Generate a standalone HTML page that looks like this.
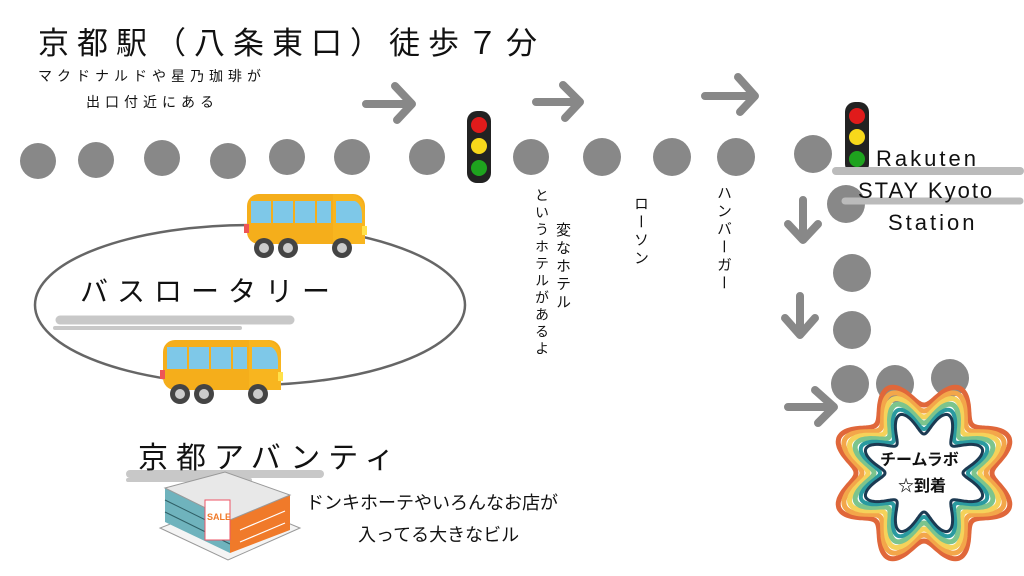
<!DOCTYPE html>
<html><head><meta charset="utf-8"><style>
html,body{margin:0;padding:0;background:#fff;}
body{width:1024px;height:576px;overflow:hidden;position:relative;font-family:"Liberation Sans","Noto Sans CJK JP",sans-serif;}
.t{position:absolute;color:#111;white-space:nowrap;}
.v{position:absolute;writing-mode:vertical-rl;font-size:14px;letter-spacing:3px;color:#111;}
</style></head><body>
<svg width="1024" height="576" style="position:absolute;left:0;top:0">
<defs>
<g id="bus">
<rect x="0" y="0" width="118" height="50" rx="12" fill="#f5ae1b"/>
<path d="M86 0 H104 Q118 4 118 20 V50 H86Z" fill="#f8b51f"/>
<rect x="4" y="7" width="20" height="22" fill="#7ec8e8"/>
<rect x="26" y="7" width="20" height="22" fill="#7ec8e8"/>
<rect x="48" y="7" width="20" height="22" fill="#7ec8e8"/>
<rect x="70" y="7" width="14" height="22" fill="#7ec8e8"/>
<path d="M89 7 H108 Q115 10 115 22 V29 H89Z" fill="#7ec8e8"/>
<rect x="-3" y="30" width="5" height="9" fill="#e55"/>
<rect x="115" y="32" width="5" height="9" fill="#ffe14a"/>
<circle cx="17" cy="54" r="10" fill="#444"/><circle cx="17" cy="54" r="5" fill="#ccc"/>
<circle cx="41" cy="54" r="10" fill="#444"/><circle cx="41" cy="54" r="5" fill="#ccc"/>
<circle cx="95" cy="54" r="10" fill="#444"/><circle cx="95" cy="54" r="5" fill="#ccc"/>
</g>
<g id="light">
<rect x="0" y="0" width="24" height="72" rx="10" fill="#222"/>
<circle cx="12" cy="14" r="8" fill="#e01b1b"/>
<circle cx="12" cy="35" r="8" fill="#f7d81b"/>
<circle cx="12" cy="57" r="8" fill="#1ea31e"/>
</g>
</defs>
<g fill="#888">
<circle cx="38" cy="161" r="18"/><circle cx="96" cy="160" r="18"/><circle cx="162" cy="158" r="18"/>
<circle cx="228" cy="161" r="18"/><circle cx="287" cy="157" r="18"/><circle cx="352" cy="157" r="18"/>
<circle cx="427" cy="157" r="18"/><circle cx="531" cy="157" r="18"/><circle cx="602" cy="157" r="19"/>
<circle cx="672" cy="157" r="19"/><circle cx="736" cy="157" r="19"/><circle cx="813" cy="154" r="19"/>
<circle cx="846" cy="204" r="19"/><circle cx="852" cy="273" r="19"/><circle cx="852" cy="330" r="19"/>
<circle cx="850" cy="384" r="19"/><circle cx="895" cy="384" r="19"/><circle cx="950" cy="378" r="19"/>
</g>
<g stroke="#888" stroke-width="8" fill="none" stroke-linecap="round" stroke-linejoin="round">
<path d="M366 104 H410 M395 86 L412 104 L397 120"/>
<path d="M536 102 H578 M563 85 L580 102 L565 118"/>
<path d="M705 96 H752 M738 77 L755 96 L740 112"/>
<path d="M803 200 V236 M788 224 L803 240 L818 224"/>
<path d="M800 296 V332 M785 318 L800 335 L815 318"/>
<path d="M788 407 H832 M815 390 L834 407 L818 423"/>
</g>
<use href="#light" x="467" y="111"/>
<use href="#light" x="845" y="102"/>
<g stroke="#c8c8c8" stroke-linecap="round" fill="none">
<path d="M60 320 H290" stroke-width="9"/><path d="M55 328 H240" stroke-width="4"/>
<path d="M130 474 H320" stroke-width="8"/><path d="M128 480 H250" stroke-width="4"/>
<path d="M836 171 H1020" stroke-width="8" stroke="#bbb"/><path d="M845 201 H1020" stroke-width="7" stroke="#bbb"/>
</g>
<ellipse cx="250" cy="305" rx="215" ry="80" fill="none" stroke="#666" stroke-width="2.5"/>
<use href="#bus" x="247" y="194"/>
<use href="#bus" x="163" y="340"/>
<g>
<polygon points="160,528 228,560 300,528 232,500" fill="#f4f4f4" stroke="#999" stroke-width="1"/>
<polygon points="165,488 230,520 230,553 165,522" fill="#6fb3bd"/>
<g stroke="#2f5f66" stroke-width="1"><path d="M165 500 L230 532 M165 512 L230 544"/></g>
<polygon points="230,520 290,495 290,530 230,553" fill="#f07a2a"/>
<g stroke="#fff" stroke-width="1.2"><path d="M240 530 L285 511 M240 542 L285 523"/></g>
<polygon points="165,488 225,472 290,495 230,520" fill="#e8e8e8" stroke="#999"/>
<rect x="205" y="500" width="25" height="40" fill="#fff" stroke="#e56"/>
<text x="207" y="520" font-size="9" fill="#f07a2a" font-weight="bold">SALE</text>
</g>
<g id="star"></g>
</svg>
<div class="t" style="left:38px;top:18px;font-size:31px;letter-spacing:8px;">京都駅（八条東口）徒歩７分</div>
<div class="t" style="left:38px;top:66px;font-size:14px;letter-spacing:5px;">マクドナルドや星乃珈琲が</div>
<div class="t" style="left:86px;top:92px;font-size:14px;letter-spacing:5px;">出口付近にある</div>
<div class="t" style="left:80px;top:270px;font-size:28px;letter-spacing:9px;">バスロータリー</div>
<div class="t" style="left:138px;top:433px;font-size:30px;letter-spacing:8px;">京都アバンティ</div>
<div class="t" style="left:306px;top:489px;font-size:18px;">ドンキホーテやいろんなお店が</div>
<div class="t" style="left:358px;top:521px;font-size:18px;">入ってる大きなビル</div>
<div class="v" style="left:532px;top:188px;">というホテルがあるよ</div>
<div class="v" style="left:552px;top:222px;font-size:15px;">変なホテル</div>
<div class="v" style="left:630px;top:196px;font-size:15px;">ローソン</div>
<div class="v" style="left:713px;top:185px;font-size:15px;">ハンバーガー</div>
<div class="t" style="left:876px;top:146px;font-size:22px;letter-spacing:3px;">Rakuten</div>
<div class="t" style="left:858px;top:178px;font-size:22px;letter-spacing:2px;">STAY Kyoto</div>
<div class="t" style="left:888px;top:210px;font-size:22px;letter-spacing:3px;">Station</div>
<div class="t" style="left:880px;top:446px;font-size:16px;font-weight:bold;">チームラボ</div>
<div class="t" style="left:898px;top:472px;font-size:16px;font-weight:bold;">☆到着</div>
<script>
(function(){
var g=document.getElementById('star');var cx=924,cy=473;
var rings=[[92,'#e0673a',5],[86,'#f3a64a',5],[80,'#f5d25a',5],[74,'#7cc48d',5],[68,'#2a9aa0',4],[63,'#1c3a52',3]];
var s='';
rings.forEach(function(r,i){var d='';for(var k=0;k<=360;k++){var a=k*Math.PI/180;var rr=r[0]-12+12*Math.cos(8*(a-Math.PI/8));var x=cx+rr*Math.cos(a),y=cy+rr*Math.sin(a);d+=(k?'L':'M')+x.toFixed(1)+' '+y.toFixed(1);}
s+='<path d="'+d+'Z" fill="'+(i==rings.length-1?'#fff':'none')+'" stroke="'+r[1]+'" stroke-width="'+r[2]+'"/>';});
g.innerHTML=s;
})();
</script>
</body></html>
